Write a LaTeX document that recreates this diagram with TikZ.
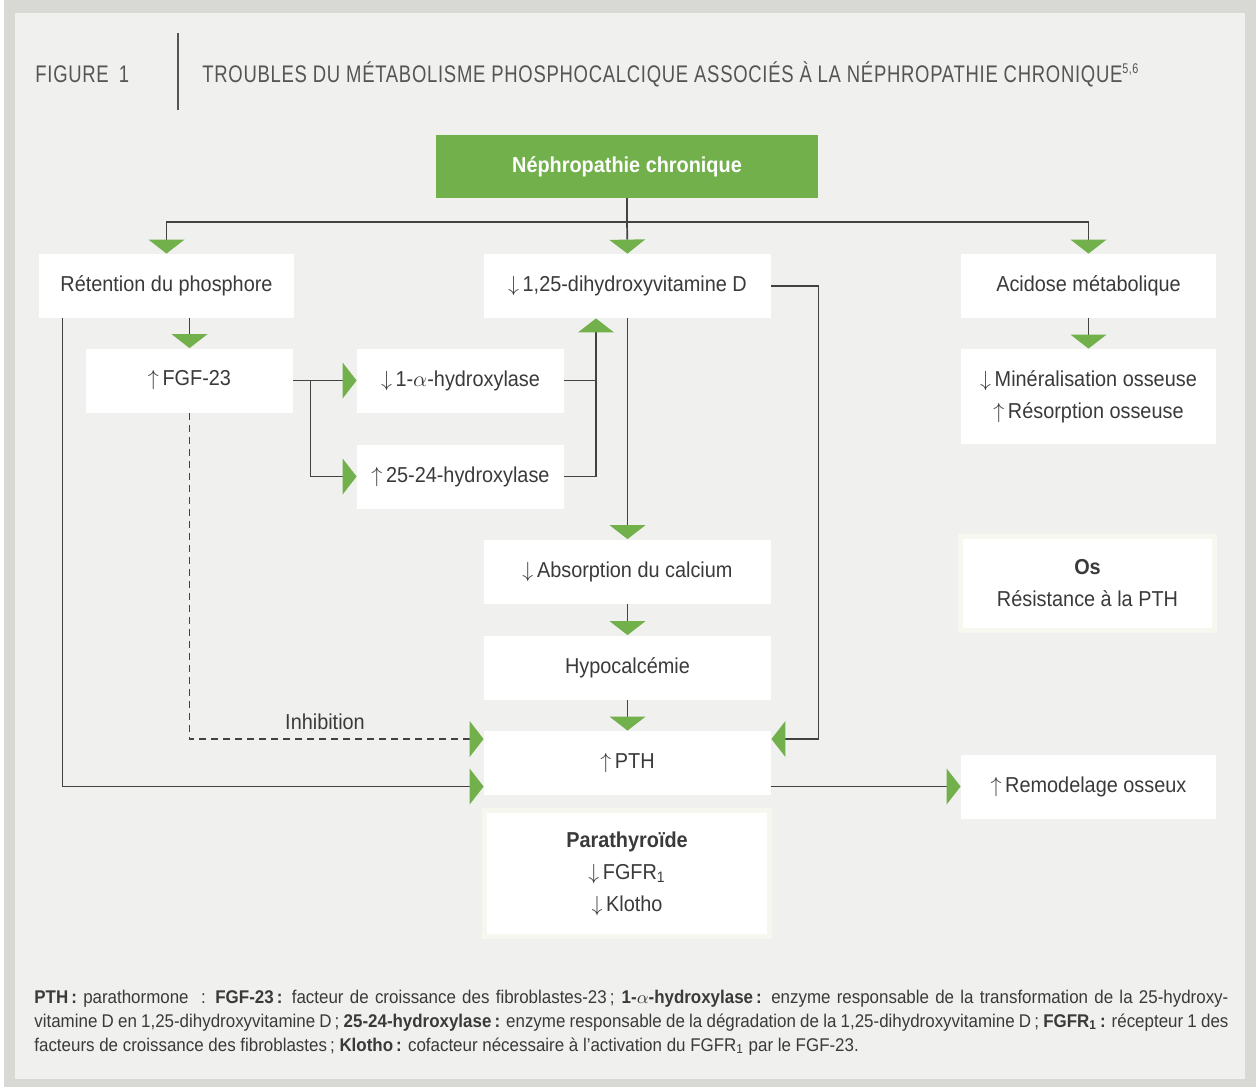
\documentclass[tikz,border=0pt]{standalone}
\usepackage{fontspec}
\setmainfont{Liberation Sans}[FakeStretch=0.92]
\newfontfamily\headfont{Liberation Sans}[FakeStretch=0.77,LetterSpace=3]
\usetikzlibrary{arrows.meta}

\definecolor{nephgreen}{HTML}{72B04C}
\definecolor{panel}{HTML}{F0F0EE}
\definecolor{framegray}{HTML}{D8D8D4}
\definecolor{ink}{HTML}{3A3A3A}
\definecolor{wirec}{HTML}{424242}
\definecolor{halo}{HTML}{F6F7EF}
\definecolor{headgray}{HTML}{555555}

\tikzset{
  box/.style={fill=white, text=ink, align=center, inner sep=0pt,
    font=\fontsize{10.8}{16}\selectfont, minimum height=32pt},
  widebox/.style={box, minimum width=127.5pt},
  midbox/.style={box, minimum width=143.5pt},
  smallbox/.style={box, minimum width=103.5pt},
  halobox/.style={box, draw=halo, line width=2.5pt},
  tag/.style={text=ink, inner sep=0pt, font=\fontsize{10.8}{16}\selectfont},
  wire/.style={draw=wirec, line width=0.85pt},
  flow/.style={wire, -{Triangle[width=18pt,length=7pt,color=nephgreen,line width=0pt]}},
  headtxt/.style={text=headgray, inner sep=0pt, font=\headfont\fontsize{12}{14}\selectfont}
}

\begin{document}
\begin{tikzpicture}[x=0.5pt,y=-0.5pt]
  \useasboundingbox (0,0) rectangle (1256,1087);
  % frame and panel
  \fill[white] (0,0) rectangle (1256,1087);
  \fill[framegray] (4,0) rectangle (1256,1087);
  \fill[panel] (15,13) rectangle (1245,1079);

  % header
  \node[headtxt, anchor=base west] (fig) at (35,82) {FIGURE\hspace{5pt}1};
  \draw[headgray, line width=0.9pt] (178,33) -- (178,110);
  \node[headtxt, anchor=base west] (title) at (202,82)
    {TROUBLES DU MÉTABOLISME PHOSPHOCALCIQUE ASSOCIÉS À LA NÉPHROPATHIE CHRONIQUE\textsuperscript{\fontsize{7}{8}\selectfont 5,6}};

  % boxes
  \node[box, fill=nephgreen, text=white, font=\bfseries\fontsize{10.8}{16}\selectfont,
    minimum width=191pt, minimum height=31.5pt] (nephro) at (627,166.5) {Néphropathie chronique};
  \node[widebox] (retention) at (166.5,286) {Rétention du phosphore};
  \node[midbox] (vitd) at (627.5,286) {$\downarrow$\,1,25-dihydroxyvitamine D};
  \node[widebox] (acidose) at (1088.5,286) {Acidose métabolique};
  \node[smallbox] (fgf) at (189.5,380.5) {$\uparrow$\,FGF-23};
  \node[smallbox] (alpha) at (460.5,380.5) {$\downarrow$\,1-$\alpha$-hydroxylase};
  \node[smallbox] (hydrox) at (460.5,476.5) {$\uparrow$\,25-24-hydroxylase};
  \node[widebox, minimum height=47.5pt] (mineral) at (1088.5,396.5)
    {$\downarrow$\,Minéralisation osseuse\\$\uparrow$\,Résorption osseuse};
  \node[midbox] (absorption) at (627.5,571.5) {$\downarrow$\,Absorption du calcium};
  \node[halobox, minimum width=127pt, minimum height=47pt] (os) at (1087.5,583.5)
    {\textbf{Os}\\Résistance à la PTH};
  \node[midbox] (hypo) at (627.5,667.5) {Hypocalcémie};
  \node[midbox] (pth) at (627.5,763) {$\uparrow$\,PTH};
  \node[halobox, minimum width=142.5pt, minimum height=63pt] (parathyr) at (627,873.5)
    {\textbf{Parathyroïde}\\$\downarrow$\,FGFR\textsubscript{1}\\$\downarrow$\,Klotho};
  \node[widebox] (remodel) at (1088.5,786.5) {$\uparrow$\,Remodelage osseux};

  % connectors
  \coordinate (split) at (627,222);
  \draw[wire] (nephro.south) -- (split);
  \draw[flow] (split) -| (retention.north);
  \draw[flow] (split) -- (vitd.north);
  \draw[flow] (split) -| (acidose.north);
  \draw[flow] (retention.south -| fgf.north) -- (fgf.north);
  \draw[flow] ([xshift=12pt]retention.south west) |- (pth.west |- remodel.west);
  \draw[flow, line width=0.7pt, dash pattern=on 3.5pt off 2.5pt] (fgf.south) |- ([yshift=12pt]pth.west);
  \node[tag] (inhib) at (325,722) {Inhibition};
  \draw[flow] (vitd.east) -- ++(47,0) |- ([yshift=12pt]pth.east);
  \draw[flow] (fgf.east) -- (alpha.west);
  \draw[flow] (fgf.east) -- ++(17,0) |- (hydrox.west);
  \coordinate (vitin) at ([xshift=-15.75pt]vitd.south);
  \draw[wire] (alpha.east) -- (alpha.east -| vitin);
  \draw[flow] (hydrox.east) -| (vitin);
  \draw[flow] (vitd.south) -- (absorption.north);
  \draw[flow] (absorption.south) -- (hypo.north);
  \draw[flow] (hypo.south) -- (pth.north);
  \draw[flow] (pth.east |- remodel.west) -- (remodel.west);
  \draw[flow] (acidose.south) -- (mineral.north);

  % legend
  \node[anchor=base west, inner sep=0pt, text=ink] (legend) at (34,1003)
    {\parbox[t]{597pt}{\fontsize{9.2}{12}\selectfont\emergencystretch=2em
    \textbf{PTH\,:} parathormone\ \ : \textbf{FGF-23\,:} facteur de croissance des fibroblastes-23\,; \textbf{1-$\alpha$-hydroxylase\,:} enzyme responsable de la transformation de la 25-hydroxy-\linebreak vitamine D en 1,25-dihydroxyvitamine D\,; \textbf{25-24-hydroxylase\,:} enzyme responsable de la dégradation de la 1,25-dihydroxyvitamine D\,; \textbf{FGFR\textsubscript{1}\,:} récepteur 1 des\linebreak facteurs de croissance des fibroblastes\,; \textbf{Klotho\,:} cofacteur nécessaire à l’activation du FGFR\textsubscript{1} par le FGF-23.}};
\end{tikzpicture}
\end{document}
